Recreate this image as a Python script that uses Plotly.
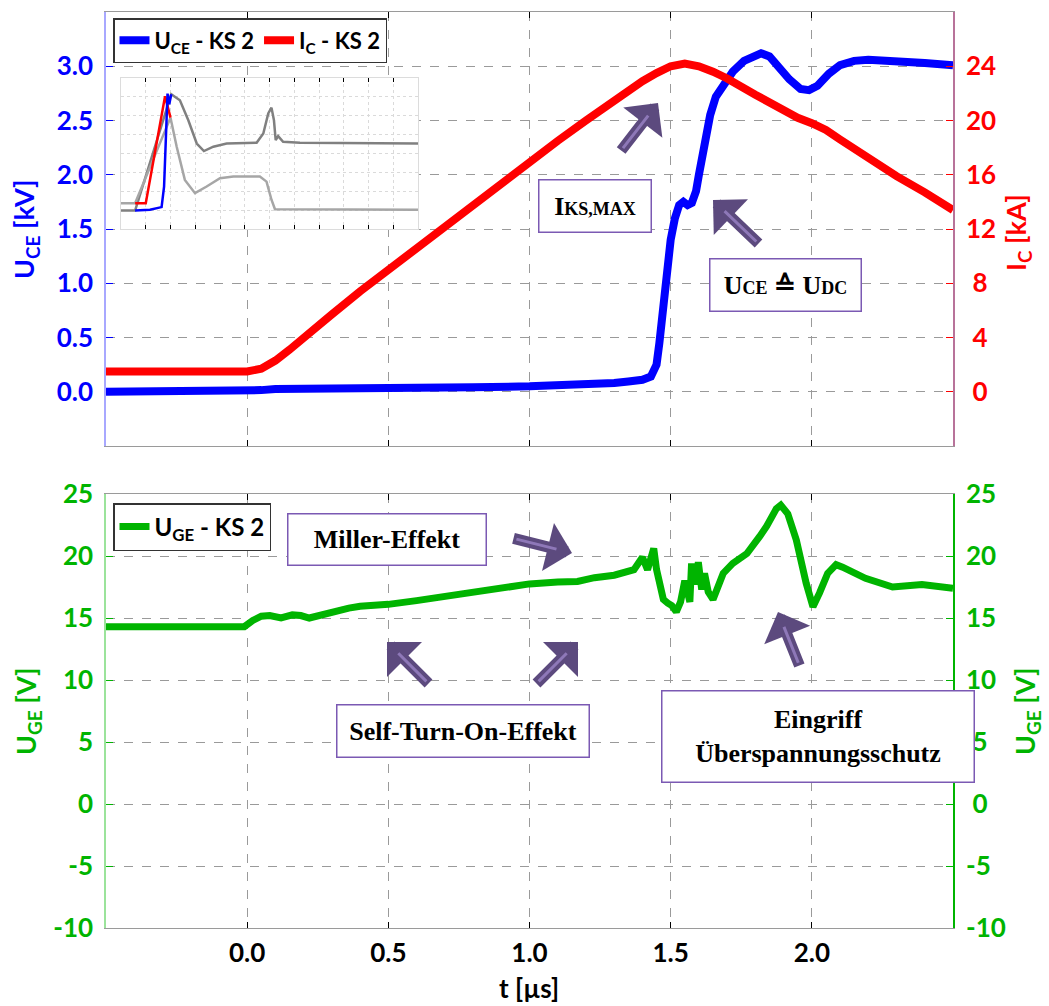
import plotly.graph_objects as go

# ---------------- data ----------------
# collector-emitter voltage U_CE (kV) over time (µs)
t_uce = [-0.5, 0.0, 0.05, 0.1, 0.2, 0.5, 0.8, 1.0, 1.2, 1.3, 1.35, 1.4, 1.43, 1.45, 1.46, 1.47,
         1.48, 1.49, 1.5, 1.515, 1.53, 1.545, 1.56, 1.575, 1.59, 1.6, 1.62, 1.64, 1.66, 1.69,
         1.72, 1.76, 1.8, 1.82, 1.85, 1.88, 1.92, 1.96, 1.99, 2.02, 2.06, 2.1, 2.15, 2.2, 2.3,
         2.4, 2.5]
u_ce = [0.0, 0.0, 0.015, 0.025, 0.03, 0.035, 0.042, 0.05, 0.062, 0.08, 0.095, 0.11, 0.14, 0.25,
        0.45, 0.7, 0.95, 1.2, 1.4, 1.6, 1.72, 1.75, 1.72, 1.74, 1.85, 2.0, 2.3, 2.55, 2.72, 2.85,
        2.95, 3.05, 3.11, 3.12, 3.09, 3.0, 2.88, 2.79, 2.78, 2.82, 2.93, 3.01, 3.05, 3.06, 3.05,
        3.03, 3.01]

# collector current I_C (kA)
t_ic = [-0.5, 0.0, 0.05, 0.1, 0.15, 0.2, 0.3, 0.4, 0.5, 0.6, 0.7, 0.8, 0.9, 1.0, 1.1, 1.2, 1.3,
        1.4, 1.45, 1.5, 1.55, 1.6, 1.65, 1.7, 1.8, 1.9, 1.95, 2.0, 2.05, 2.1, 2.2, 2.3, 2.4, 2.5]
i_c = [1.5, 1.5, 1.7, 2.3, 3.1, 4.0, 5.7, 7.4, 9.0, 10.6, 12.2, 13.8, 15.4, 17.0, 18.5, 20.0,
       21.5, 22.9, 23.5, 24.0, 24.2, 24.0, 23.6, 23.1, 21.9, 20.7, 20.2, 19.8, 19.3, 18.6, 17.2,
       15.9, 14.7, 13.4]

# gate-emitter voltage U_GE (V)
t_uge = [-0.5, -0.01, 0.02, 0.05, 0.08, 0.12, 0.16, 0.19, 0.22, 0.26, 0.29, 0.33, 0.36, 0.4,
         0.5, 0.6, 0.7, 0.8, 0.9, 1.0, 1.1, 1.17, 1.23, 1.3, 1.37, 1.40, 1.418, 1.44, 1.45, 1.462,
         1.474, 1.49, 1.504, 1.52, 1.535, 1.55, 1.56, 1.568, 1.574, 1.586, 1.598, 1.61, 1.62,
         1.633, 1.65, 1.662, 1.686, 1.72, 1.77, 1.816, 1.84, 1.874, 1.89, 1.915, 1.945, 1.98,
         2.004, 2.027, 2.056, 2.086, 2.109, 2.19, 2.286, 2.39, 2.45, 2.5]
u_ge = [14.3, 14.3, 14.8, 15.15, 15.2, 15.0, 15.25, 15.2, 15.0, 15.25, 15.4, 15.75, 15.8, 15.95,
        16.1, 16.4, 16.75, 17.1, 17.4, 17.75, 17.9, 17.95, 18.25, 18.45, 18.9, 19.9, 18.9, 20.6,
        18.9, 17.8, 16.5, 16.2, 16.0, 15.5, 16.3, 18.0, 16.8, 16.3, 19.4, 17.7, 19.5, 17.3, 18.6,
        17.1, 16.5, 17.3, 18.6, 19.4, 20.2, 21.6, 22.4, 23.8, 24.1, 23.4, 21.3, 17.8, 15.9, 17.0,
        18.6, 19.3, 19.1, 18.2, 17.5, 17.7, 17.6, 17.4]

# overview of the complete switching event (inset, in grid divisions)
ov_u_t = [0.0, 0.57, 2.03, 2.38, 2.72, 3.06, 3.35, 3.73, 4.27, 5.48, 5.75, 5.95, 6.08, 6.18,
          6.25, 6.35, 6.55, 7.23, 12.0]
ov_u = [0.98, 0.98, 7.14, 6.82, 5.76, 4.53, 4.13, 4.36, 4.53, 4.57, 5.06, 6.12, 6.43, 5.76,
        4.71, 4.92, 4.62, 4.57, 4.53]
ov_i_t = [0.0, 0.57, 2.0, 2.25, 2.58, 2.99, 3.46, 4.0, 4.54, 5.61, 5.88, 6.08, 6.22, 12.0]
ov_i = [1.37, 1.37, 5.9, 4.36, 2.6, 1.9, 2.25, 2.69, 2.78, 2.78, 2.51, 1.55, 1.05, 1.02]
# highlighted window of the overview
win_u_t = [0.57, 1.17, 1.64, 1.74, 1.82, 1.88, 1.95, 2.03]
win_u = [0.98, 1.02, 1.16, 2.25, 5.06, 7.17, 6.61, 7.14]
win_i_t = [0.57, 1.0, 1.78, 2.0]
win_i = [1.37, 1.37, 7.03, 5.9]

# axis ticks
t_ticks = [0.0, 0.5, 1.0, 1.5, 2.0]
t_labels = ["0.0", "0.5", "1.0", "1.5", "2.0"]
uce_ticks = [0.0, 0.5, 1.0, 1.5, 2.0, 2.5, 3.0]
uce_labels = ["0.0", "0.5", "1.0", "1.5", "2.0", "2.5", "3.0"]
ic_ticks = [0, 4, 8, 12, 16, 20, 24]
ic_labels = ["\u20050", "\u20054", "\u20058", "12", "16", "20", "24"]
uge_ticks = [-10, -5, 0, 5, 10, 15, 20, 25]
uge_labels = ["-10", "-5", "0", "5", "10", "15", "20", "25"]
uge_labels_right = ["-10", "-5", "\u20050", "\u20055", "10", "15", "20", "25"]

# ---------------- styling ----------------
BLUE = "#0000ff"
RED = "#ff0000"
GREEN = "#00b400"
SANS = "Lato"
SERIF = "Liberation Serif"
TICK_SIZE = 26

# plot area geometry (pixels)
L, R, T, B = 106, 953, 12, 928
W_PLOT, H_PLOT = R - L, B - T


def px(x):
    return (x - L) / W_PLOT


def py(y):
    return (B - y) / H_PLOT


fig = go.Figure()

fig.add_trace(go.Scatter(x=t_uce, y=u_ce, name="U<sub>CE</sub> - KS 2", mode="lines",
                         line=dict(color=BLUE, width=8), xaxis="x", yaxis="y",
                         legend="legend"))
fig.add_trace(go.Scatter(x=t_ic, y=i_c, name="I<sub>C</sub> - KS 2", mode="lines",
                         line=dict(color=RED, width=8), xaxis="x", yaxis="y2",
                         legend="legend"))
fig.add_trace(go.Scatter(x=t_uge, y=u_ge, name="U<sub>GE</sub> - KS 2", mode="lines",
                         line=dict(color=GREEN, width=7), xaxis="x2", yaxis="y3",
                         legend="legend2"))
# same signal on the mirrored right-hand axis (invisible, keeps the axis alive)
fig.add_trace(go.Scatter(x=t_uge, y=u_ge, mode="lines", opacity=0, showlegend=False,
                         hoverinfo="skip", line=dict(color=GREEN, width=1),
                         xaxis="x2", yaxis="y4"))

# inset overview traces
fig.add_trace(go.Scatter(x=ov_u_t, y=ov_u, mode="lines", showlegend=False,
                         line=dict(color="#808080", width=2.5), xaxis="x3", yaxis="y5"))
fig.add_trace(go.Scatter(x=ov_i_t, y=ov_i, mode="lines", showlegend=False,
                         line=dict(color="#a6a6a6", width=2.5), xaxis="x3", yaxis="y5"))
fig.add_trace(go.Scatter(x=win_i_t, y=win_i, mode="lines", showlegend=False,
                         line=dict(color=RED, width=2.5), xaxis="x3", yaxis="y5"))
fig.add_trace(go.Scatter(x=win_u_t, y=win_u, mode="lines", showlegend=False,
                         line=dict(color=BLUE, width=2.5), xaxis="x3", yaxis="y5"))

grid = dict(showgrid=True, gridcolor="#9a9a9a", griddash="dash", gridwidth=1, zeroline=False)

top_dom = [py(446), 1.0]
bot_dom = [0.0, py(494)]

xcommon = dict(range=[-0.5, 2.5], tickmode="array", tickvals=t_ticks, ticktext=t_labels,
               ticks="inside", ticklen=6, tickcolor="black", tickwidth=1.2,
               showline=True, linecolor="#9a9a9a", linewidth=1.2, mirror="ticks", **grid)

fig.update_layout(
    width=1049, height=1006,
    margin=dict(l=L, r=1049 - R, t=T, b=1006 - B, autoexpand=False),
    paper_bgcolor="white", plot_bgcolor="white",
    font=dict(family=SANS, color="black"),
    xaxis=dict(domain=[0, 1], anchor="y", showticklabels=False, **xcommon),
    yaxis=dict(domain=top_dom, anchor="x", range=[-0.5, 3.5], tickmode="array",
               tickvals=uce_ticks, ticktext=uce_labels,
               tickfont=dict(family=SANS, size=TICK_SIZE, color=BLUE, weight="bold"),
               ticks="inside", ticklen=7, tickcolor=BLUE, ticklabelstandoff=6,
               showline=True, linecolor="#a8a8ff", linewidth=1.5, **grid),
    yaxis2=dict(overlaying="y", side="right", anchor="x", range=[-4, 28], tickmode="array",
                tickvals=ic_ticks, ticktext=ic_labels,
                tickfont=dict(family=SANS, size=TICK_SIZE, color=RED, weight="bold"),
                ticks="inside", ticklen=7, tickcolor=RED, ticklabelstandoff=6,
                showline=True, linecolor="#b8739a", linewidth=1.5, showgrid=False,
                zeroline=False),
    xaxis2=dict(domain=[0, 1], anchor="y3", showticklabels=True,
                tickfont=dict(family=SANS, size=TICK_SIZE, color="black", weight="bold"),
                ticklabelstandoff=2, **xcommon),
    yaxis3=dict(domain=bot_dom, anchor="x2", range=[-10, 25], tickmode="array",
                tickvals=uge_ticks, ticktext=uge_labels,
                tickfont=dict(family=SANS, size=TICK_SIZE, color=GREEN, weight="bold"),
                ticks="inside", ticklen=7, tickcolor=GREEN, ticklabelstandoff=6,
                showline=True, linecolor="#9be39b", linewidth=1.5, **grid),
    yaxis4=dict(overlaying="y3", side="right", anchor="x2", range=[-10, 25], tickmode="array",
                tickvals=uge_ticks, ticktext=uge_labels_right,
                tickfont=dict(family=SANS, size=TICK_SIZE, color=GREEN, weight="bold"),
                ticks="inside", ticklen=7, tickcolor=GREEN, ticklabelstandoff=6,
                showline=True, linecolor=GREEN, linewidth=1.5, showgrid=False,
                zeroline=False),
    xaxis3=dict(domain=[px(121), px(418)], anchor="y5", range=[0, 12], dtick=1,
                showticklabels=False, ticks="inside", ticklen=4, tickcolor="black",
                showline=True, linecolor="#dcdcdc", mirror="ticks", showgrid=True,
                gridcolor="#dadada", griddash="dot", zeroline=False),
    yaxis5=dict(domain=[py(229), py(78)], anchor="x3", range=[0, 8], dtick=1,
                showticklabels=False, ticks="", showline=True, linecolor="#dcdcdc",
                mirror=True, showgrid=True, gridcolor="#dadada", griddash="dot",
                zeroline=False),
    legend=dict(x=px(113), y=py(18), xanchor="left", yanchor="top", orientation="h",
                font=dict(family=SANS, size=22, color="black", weight="bold"),
                bgcolor="white", bordercolor="#333333", borderwidth=1.5, itemwidth=30,
                tracegroupgap=0),
    legend2=dict(x=px(113), y=py(503), xanchor="left", yanchor="top", orientation="h",
                 font=dict(family=SANS, size=24, color="black", weight="bold"),
                 bgcolor="white", bordercolor="#333333", borderwidth=1.5, itemwidth=30),
)

annotations = []


# axis titles
def axis_title(text, x, y, color, angle=-90, size=27):
    annotations.append(dict(xref="paper", yref="paper", x=px(x), y=py(y), text=text,
                            showarrow=False, textangle=angle, xanchor="center",
                            yanchor="middle",
                            font=dict(family=SANS, size=size, color=color, weight="bold")))


axis_title("U<sub>CE</sub> [kV]", 26, 229, BLUE)
axis_title("I<sub>C</sub> [kA]", 1018, 233, RED)
axis_title("U<sub>GE</sub> [V]", 27, 711, GREEN)
axis_title("U<sub>GE</sub> [V]", 1026, 711, GREEN)
axis_title("t [µs]", 529, 988, "black", angle=0, size=26)


# labelled boxes
def box(text, x0, y0, x1, y1):
    annotations.append(dict(xref="paper", yref="paper", x=px((x0 + x1) / 2),
                            y=py((y0 + y1) / 2), text=text, showarrow=False,
                            xanchor="center", yanchor="middle", align="center",
                            valign="middle", width=x1 - x0 - 2, height=y1 - y0 - 2,
                            borderpad=0, bgcolor="white", bordercolor="#7b59b3",
                            borderwidth=1.5,
                            font=dict(family=SERIF, size=26, color="black", weight="bold")))


small = "<span style='font-size:18px'>{}</span>"
box("I" + small.format("KS,MAX"), 538, 179, 651, 232)
box("U" + small.format("CE") + " ≙ U" + small.format("DC"), 709, 258, 861, 311)
box("Miller-Effekt", 287, 513, 486, 565)
box("Self-Turn-On-Effekt", 336, 704, 589, 757)
box("Eingriff<br>Überspannungsschutz", 661, 690, 974, 782)


# block arrows: dark body with a light centre stroke
def block_arrow(tip, tail):
    base = dict(xref="paper", yref="paper", x=px(tip[0]), y=py(tip[1]),
                ax=tail[0] - tip[0], ay=tail[1] - tip[1], axref="pixel", ayref="pixel",
                text="", showarrow=True)
    annotations.append(dict(base, arrowhead=1, arrowsize=0.75, arrowwidth=11,
                            arrowcolor="#5c4a7e"))
    annotations.append(dict(base, arrowhead=0, arrowwidth=3, arrowcolor="#8e78b8",
                            standoff=16, startstandoff=3))


block_arrow((658, 103), (620, 152))
block_arrow((713, 200), (760, 245))
block_arrow((572, 553), (512, 538))
block_arrow((387, 642), (430, 685))
block_arrow((578, 642), (535, 685))
block_arrow((778, 612), (800, 667))

fig.update_layout(annotations=annotations)

fig.write_html("out.html")
